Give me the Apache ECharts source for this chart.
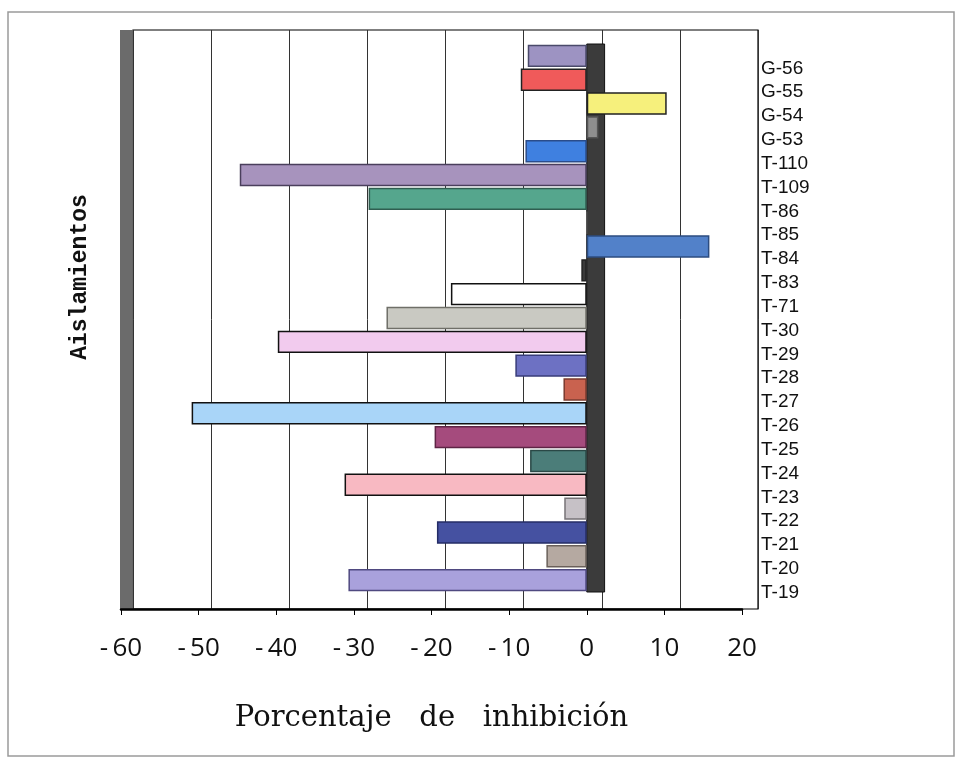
<!DOCTYPE html>
<html>
<head>
<meta charset="utf-8">
<script src="https://cdn.jsdelivr.net/npm/echarts@6/dist/echarts.min.js"></script>
<style>
  html, body { margin: 0; padding: 0; background: #fff; }
  #chart { width: 963px; height: 767px; }
</style>
</head>
<body>
<div id="chart"></div>
<script>
// aislamientos, de arriba hacia abajo
var categories = ['G-56', 'G-55', 'G-54', 'G-53', 'T-110', 'T-109', 'T-86', 'T-85', 'T-84', 'T-83', 'T-71',
  'T-30', 'T-29', 'T-28', 'T-27', 'T-26', 'T-25', 'T-24', 'T-23', 'T-22', 'T-21', 'T-20', 'T-19'];
var inhibition = [-7.6, -8.5, 10.3, 1.5, -7.9, -44.7, -28.1, 0, 15.8, -0.7, -17.5,
  -25.8, -39.8, -9.2, -3.0, -50.9, -19.6, -7.3, -31.2, -2.9, -19.3, -5.2, -30.7];
var barColors = ['#9d93c2', '#f05a5a', '#f6f07c', '#8e8e8e', '#3f80e0', '#a793bd', '#55a68d', '#cccccc', '#5281c9', '#3a3a3a', '#ffffff',
  '#c9c9c2', '#f2cbee', '#6d71c3', '#c9624f', '#a9d5f8', '#a54b7d', '#4b7d79', '#f8b9c2', '#c6c1c6', '#4551a1', '#b5a9a1', '#a9a1dc'];
var barBorders = ['#4a4a6a', '#222222', '#222222', '#555555', '#2a4c8a', '#4a3f5c', '#2f5e50', '#555555', '#2c4c80', '#222222', '#111111',
  '#6f6f68', '#111111', '#383c7a', '#7a3a2e', '#111111', '#5e2445', '#2a4846', '#111111', '#777377', '#242c66', '#6a605a', '#4f4980'];
var xMin = -60, xMax = 20, xStep = 10;

var myChart = echarts.init(document.getElementById('chart'));

var barData = inhibition.map(function (v, i) {
  return {
    value: v,
    itemStyle: { color: barColors[i], borderColor: barBorders[i], borderWidth: 1.5 }
  };
});

myChart.setOption({
  animation: false,
  graphic: [{
    type: 'rect',
    shape: { x: 8, y: 12, width: 946, height: 744 },
    style: { fill: 'none', stroke: '#9a9a9a', lineWidth: 1.5 },
    silent: true
  }, {
    // titulo del eje vertical
    type: 'text',
    x: 80,
    y: 277,
    rotation: Math.PI / 2,
    style: {
      text: 'Aislamientos',
      font: 'bold 23px "Liberation Mono"',
      fill: '#111',
      align: 'center',
      verticalAlign: 'middle'
    },
    silent: true
  }],
  grid: [
    // pared del fondo
    { left: 133, top: 30, width: 625, height: 579, show: true, borderColor: '#000', borderWidth: 1.2, backgroundColor: '#fff' },
    // barras
    { left: 121, top: 44, width: 621, height: 548 }
  ],
  xAxis: [
    {
      gridIndex: 0, type: 'value', min: xMin, max: xMax, interval: xStep,
      axisLine: { show: false }, axisTick: { show: false }, axisLabel: { show: false },
      splitLine: { show: true, lineStyle: { color: '#333', width: 1 } }
    },
    {
      gridIndex: 1, type: 'value', min: xMin, max: xMax, interval: xStep,
      offset: 17,
      axisLine: { show: true, onZero: false, lineStyle: { color: '#000', width: 2.5 } },
      axisTick: { show: true, length: 6, lineStyle: { color: '#000', width: 1 } },
      splitLine: { show: false },
      axisLabel: {
        margin: 27,
        fontFamily: 'Open Sans',
        fontSize: 26,
        color: '#111',
        formatter: function (v) { return v < 0 ? '-\u2009' + (-v) : String(v); }
      },
      name: 'Porcentaje   de   inhibición',
      nameLocation: 'middle',
      nameGap: 95,
      nameTextStyle: { fontFamily: 'DejaVu Serif', fontSize: 29, color: '#111' }
    }
  ],
  yAxis: [
    {
      gridIndex: 0, type: 'category', data: categories, inverse: true,
      offset: 7,
      axisLine: { show: true, onZero: false, lineStyle: { color: '#6b6b6b', width: 12, cap: 'butt' } },
      axisTick: { show: false }, axisLabel: { show: false }, splitLine: { show: false }
    },
    {
      gridIndex: 1, type: 'category', data: categories, inverse: true,
      position: 'right',
      axisLine: { show: false }, axisTick: { show: false }, splitLine: { show: false },
      axisLabel: {
        interval: 0,
        hideOverlap: false,
        margin: 19,
        fontFamily: 'Liberation Sans',
        fontSize: 19,
        color: '#111',
        verticalAlign: 'top',
        lineHeight: 25
      }
    }
  ],
  series: [{
    name: 'Porcentaje de inhibición',
    type: 'bar',
    xAxisIndex: 1,
    yAxisIndex: 1,
    barCategoryGap: '6%',
    data: barData,
    markArea: {
      silent: true,
      itemStyle: { color: '#3b3b3b', borderColor: '#111', borderWidth: 1 },
      data: [[{ xAxis: 0 }, { xAxis: 2.3 }]]
    }
  }]
});
</script>
</body>
</html>
